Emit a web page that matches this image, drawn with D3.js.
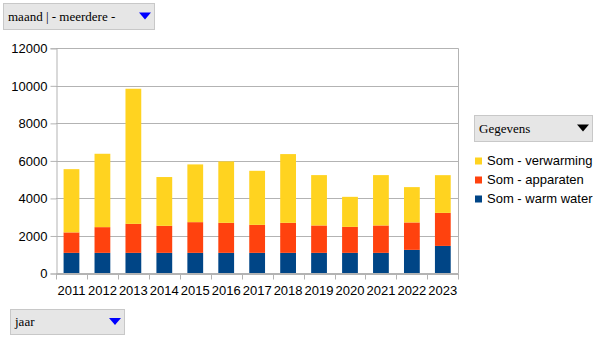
<!DOCTYPE html>
<html><head><meta charset="utf-8">
<script src="https://cdn.jsdelivr.net/npm/d3@7"></script>
<style>
body{margin:0;background:#fff;}
svg{display:block;}
</style></head>
<body>
<script>
const years = ["2011","2012","2013","2014","2015","2016","2017","2018","2019","2020","2021","2022","2023"];
const warmWater = [1100,1100,1100,1100,1100,1100,1100,1100,1100,1100,1100,1260,1470];
const apparaten = [1090,1370,1545,1440,1636,1600,1492,1600,1460,1385,1460,1460,1760];
const verwarming = [3370,3910,7200,2600,3077,3273,2880,3663,2683,1600,2683,1883,2010];
const seriesNames = ["Som - warm water","Som - apparaten","Som - verwarming"];
const seriesColors = ["#004586","#ff420e","#ffd320"];
const yTicks = [0,2000,4000,6000,8000,10000,12000];

const W=605,H=340;
const svg=d3.select("body").append("svg").attr("width",W).attr("height",H);
const x=d3.scaleBand().domain(years).range([56,458.3]).padding(0);
const y=d3.scaleLinear().domain([0,12000]).range([273.5,48.3]);
const grid="#b3b3b3";

// gridlines
svg.append("g").selectAll("line").data(yTicks).join("line")
  .attr("x1",56).attr("x2",458.3).attr("y1",d=>Math.round(y(d))+0.5).attr("y2",d=>Math.round(y(d))+0.5)
  .attr("stroke",grid).attr("stroke-width",1);
// right border
svg.append("line").attr("x1",458.5).attr("x2",458.5).attr("y1",y(12000)).attr("y2",y(0)).attr("stroke",grid);

// stacked bars
const rows=years.map((yr,i)=>({year:yr,w:warmWater[i],a:apparaten[i],v:verwarming[i]}));
const stack=d3.stack().keys(["w","a","v"])(rows);
const bw=x.bandwidth()*0.51;
svg.append("g").selectAll("g").data(stack).join("g").attr("fill",(d,i)=>seriesColors[i])
  .selectAll("rect").data(d=>d).join("rect")
  .attr("x",d=>x(d.data.year)+x.bandwidth()/2-bw/2)
  .attr("width",bw)
  .attr("y",d=>y(d[1]))
  .attr("height",d=>y(d[0])-y(d[1]));

// y axis
const yAxis=svg.append("g").attr("transform","translate(56.5,0)")
  .call(d3.axisLeft(y).tickValues(yTicks).tickSize(6).tickPadding(3).tickFormat(d3.format("d")));
yAxis.selectAll("path,line").attr("stroke",grid);
yAxis.selectAll("text").attr("font-family","'Liberation Sans',Arial,sans-serif").attr("font-size","13px").attr("fill","#000");

// x axis
const xg=svg.append("g");
xg.append("line").attr("x1",56).attr("x2",458.3).attr("y1",273.5).attr("y2",273.5).attr("stroke",grid);
const bounds=years.map(d=>x(d)).concat([x(years[years.length-1])+x.bandwidth()]);
xg.selectAll("line.t").data(bounds).join("line").attr("class","t")
  .attr("x1",d=>Math.round(d)+0.5).attr("x2",d=>Math.round(d)+0.5).attr("y1",273.5).attr("y2",279.5).attr("stroke",grid);
xg.selectAll("text").data(years).join("text")
  .attr("x",d=>x(d)+x.bandwidth()/2).attr("y",295).attr("text-anchor","middle")
  .attr("font-family","'Liberation Sans',Arial,sans-serif").attr("font-size","13px").attr("fill","#000")
  .text(d=>d);

// dropdown boxes
function dropdown(x0,y0,w,h,label,triColor){
  const g=svg.append("g");
  g.append("rect").attr("x",x0+0.5).attr("y",y0+0.5).attr("width",w).attr("height",h)
    .attr("fill","#e6e6e6").attr("stroke","#c8c8c8");
  g.append("text").attr("x",x0+5).attr("y",y0+h/2+4.5)
    .attr("font-family","'Liberation Serif','Times New Roman',serif").attr("font-size","13px").attr("fill","#000").text(label);
  const tx=x0+w-9, ty=y0+h/2;
  g.append("path").attr("d",`M${tx-6},${ty-3.5}L${tx+6},${ty-3.5}L${tx},${ty+3.5}Z`).attr("fill",triColor);
}
dropdown(3,3,151,26,"maand | - meerdere -","#0000ff");
dropdown(474,115,118,26,"Gegevens","#000000");
dropdown(10,309,114,25,"jaar","#0000ff");

// legend
const legOrder=[2,1,0];
const lg=svg.append("g");
legOrder.forEach((si,k)=>{
  const yy=157.5+k*19;
  lg.append("rect").attr("x",475).attr("y",yy).attr("width",7).attr("height",7).attr("fill",seriesColors[si]);
  lg.append("text").attr("x",487).attr("y",yy+7.5)
    .attr("font-family","'Liberation Sans',Arial,sans-serif").attr("font-size","13px").attr("fill","#000").text(seriesNames[si]);
});
</script>
</body></html>
